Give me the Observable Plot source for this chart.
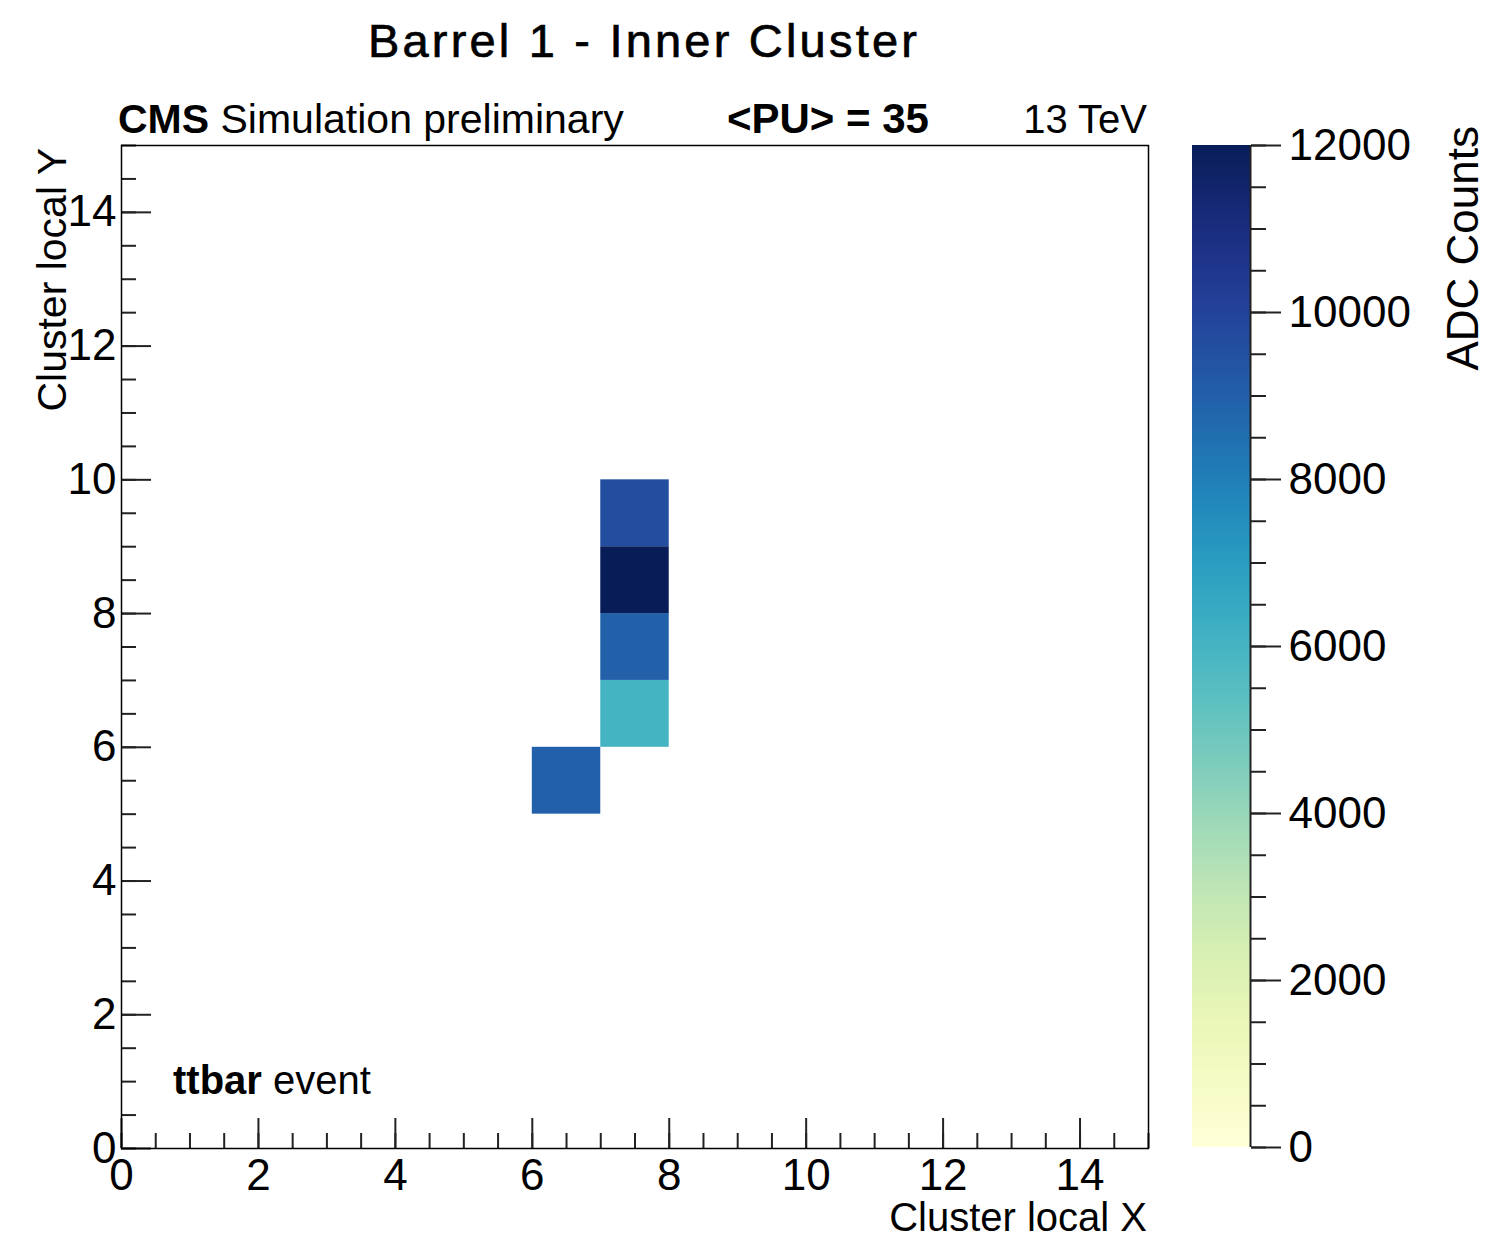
<!DOCTYPE html>
<html>
<head>
<meta charset="utf-8">
<script src="https://cdn.jsdelivr.net/npm/d3@7"></script>
<script src="https://cdn.jsdelivr.net/npm/@observablehq/plot@0.6"></script>
<style>
  html, body { margin: 0; padding: 0; background: #fff; }
  #wrap { position: relative; width: 1486px; height: 1239px; overflow: hidden; font-family: "Liberation Sans", Arial, sans-serif; }
  #wrap svg { position: absolute; }
</style>
</head>
<body>
<div id="wrap"></div>
<script>
// ---- data ----
const cellX = [6, 7, 7, 7, 7];
const cellY = [5, 6, 7, 8, 9];
const cellADC = [9000, 6000, 9000, 12000, 9600];

const xMajor = [0, 2, 4, 6, 8, 10, 12, 14];
const yMajor = [0, 2, 4, 6, 8, 10, 12, 14];
const xMinor = d3.range(0, 15.01, 0.5);
const yMinor = d3.range(0, 15.01, 0.5);
const zMajor = [0, 2000, 4000, 6000, 8000, 10000, 12000];
const zMinor = d3.range(0, 12001, 500);
const zDomain = [0, 12000];

const cells = cellX.map((x, i) => ({x, y: cellY[i], adc: cellADC[i]}));

const font = "'Liberation Sans', Arial, Helvetica, sans-serif";
const wrap = document.getElementById("wrap");

const frameW = 1148 - 121, frameH = 1148 - 145;

const main = Plot.plot({
  width: 1486, height: 1239,
  marginLeft: 121, marginRight: 338, marginTop: 145, marginBottom: 91,
  x: {domain: [0, 15]},
  y: {domain: [0, 15]},
  color: {type: "linear", domain: zDomain, scheme: "YlGnBu"},
  style: {fontFamily: font, fontSize: "44px", color: "black", background: "transparent", overflow: "visible"},
  marks: [
    Plot.rect(cells, {x1: "x", x2: d => d.x + 1, y1: "y", y2: d => d.y + 1, fill: "adc"}),
    Plot.tickX(xMinor, {x: d => d, insetTop: frameH - 15, stroke: "#222", strokeWidth: 2}),
    Plot.tickX(xMajor, {x: d => d, insetTop: frameH - 30, stroke: "#222", strokeWidth: 2}),
    Plot.tickY(yMinor, {y: d => d, insetRight: frameW - 15, stroke: "#222", strokeWidth: 2}),
    Plot.tickY(yMajor, {y: d => d, insetRight: frameW - 30, stroke: "#222", strokeWidth: 2}),
    Plot.axisX({ticks: xMajor, tickSize: 0, tickPadding: 10, fontSize: 44, label: null, tickFormat: d3.format("d")}),
    Plot.axisY({ticks: yMajor, tickSize: 0, tickPadding: 5, fontSize: 44, label: null, tickFormat: d3.format("d")}),
    Plot.frame({stroke: "black", strokeWidth: 1.5})
  ]
});
main.style.left = "0px"; main.style.top = "0px";
wrap.appendChild(main);

const step = 10;
const barSteps = d3.range(0, 12000, step);
const bar = Plot.plot({
  width: 294, height: 1239,
  marginLeft: 0, marginRight: 236, marginTop: 145, marginBottom: 92,
  x: {domain: [0, 1], axis: null},
  y: {domain: zDomain},
  color: {type: "linear", domain: zDomain, scheme: "YlGnBu"},
  style: {fontFamily: font, fontSize: "44px", color: "black", background: "transparent", overflow: "visible"},
  marks: [
    Plot.rect(barSteps, {x1: 0, x2: 1, y1: d => d, y2: d => Math.min(d + step * 1.6, 12000), fill: d => d + step / 2, shapeRendering: "crispEdges"}),
    Plot.axisY({anchor: "right", ticks: zMinor, tickSize: 15, tickFormat: () => "", label: null, stroke: "#222", strokeWidth: 2}),
    Plot.axisY({anchor: "right", ticks: zMajor, tickSize: 30, tickPadding: 8, fontSize: 44, label: null, tickFormat: d3.format("d"), stroke: "#222", strokeWidth: 2}),
    Plot.ruleX([1], {stroke: "#222", strokeWidth: 2})
  ]
});
bar.style.left = "1192px"; bar.style.top = "0px";
wrap.appendChild(bar);

// ---- text overlay ----
const ns = "http://www.w3.org/2000/svg";
const ov = document.createElementNS(ns, "svg");
ov.setAttribute("width", 1486); ov.setAttribute("height", 1239);
ov.style.left = "0px"; ov.style.top = "0px";
ov.style.fontFamily = font;
wrap.appendChild(ov);
function txt(parts, attrs) {
  const t = document.createElementNS(ns, "text");
  for (const k in attrs) t.setAttribute(k, attrs[k]);
  for (const [s, w] of parts) {
    const sp = document.createElementNS(ns, "tspan");
    sp.textContent = s;
    if (w) sp.setAttribute("font-weight", w);
    t.appendChild(sp);
  }
  ov.appendChild(t);
  return t;
}
txt([["Barrel 1 - Inner Cluster"]], {x: 644, y: 57, "text-anchor": "middle", "font-size": 47, "letter-spacing": 3.2, stroke: "black", "stroke-width": 0.7});
txt([["CMS", "bold"], [" Simulation preliminary"]], {x: 118, y: 133, "font-size": 41});
txt([["<PU> = 35", "bold"]], {x: 727, y: 133, "font-size": 42});
txt([["13 TeV"]], {x: 1147, y: 133, "font-size": 40, "text-anchor": "end"});
txt([["ttbar", "bold"], [" event"]], {x: 173, y: 1094, "font-size": 40});
txt([["Cluster local X"]], {x: 1147, y: 1231, "font-size": 40, "text-anchor": "end"});
txt([["Cluster local Y"]], {transform: "translate(66,148) rotate(-90)", "font-size": 41, "text-anchor": "end"});
txt([["ADC Counts"]], {transform: "translate(1478,126) rotate(-90)", "font-size": 44, "text-anchor": "end"});
</script>
</body>
</html>
